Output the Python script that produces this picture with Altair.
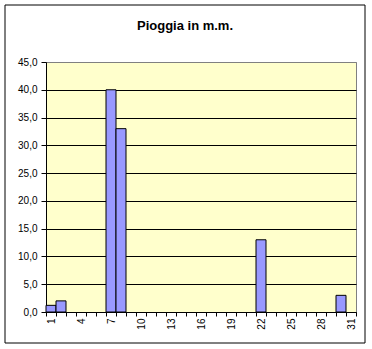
import altair as alt
import pandas as pd

days = list(range(1, 32))
rain = [1.2, 2.0, 0, 0, 0, 0, 40.0, 33.0, 0, 0,
        0, 0, 0, 0, 0, 0, 0, 0, 0, 0,
        0, 13.0, 0, 0, 0, 0, 0, 0, 0, 3.0,
        0]
y_ticks = [0, 5, 10, 15, 20, 25, 30, 35, 40, 45]
title_text = "Pioggia in m.m."

df = pd.DataFrame({"day": days, "rain": rain})
FONT = "Liberation Sans"

bars = alt.Chart(df).transform_filter("datum.rain > 0").mark_bar(
    color="#9999FF", stroke="black", strokeWidth=1
).encode(
    x=alt.X("day:O", scale=alt.Scale(domain=days, paddingInner=0, paddingOuter=0),
            axis=alt.Axis(title=None, labelAngle=270, tickBand="extent",
                          labelExpr="(datum.value - 1) % 3 == 0 ? datum.label : ''",
                          labelFont=FONT, labelFontSize=10, labelColor="black",
                          tickSize=4, labelPadding=2, domainColor="black",
                          tickColor="black", grid=False)),
    y=alt.Y("rain:Q", scale=alt.Scale(domain=[0, 45], nice=False),
            axis=alt.Axis(title=None, values=y_ticks,
                          labelExpr="replace(format(datum.value, '.1f'), '.', ',')",
                          labelFont=FONT, labelFontSize=10, labelColor="black",
                          tickSize=5, labelPadding=4, domainColor="black",
                          tickColor="black", grid=True,
                          gridColor={"condition": {"test": "datum.value == 45", "value": "#808080"},
                                     "value": "black"},
                          gridOpacity=1)),
)

frame = alt.Chart(pd.DataFrame({"a": [0]})).mark_rect(
    filled=False, stroke="black", strokeWidth=1
).encode(
    x=alt.value(-41), x2=alt.value(319), y=alt.value(-57), y2=alt.value(281)
)

chart = alt.layer(bars, frame).properties(
    width=310, height=250,
    padding={"left": 46, "top": 62, "right": 16, "bottom": 37},
    autosize=alt.AutoSizeParams(type="none"),
    title=alt.TitleParams(title_text, font=FONT, fontSize=13, fontWeight="bold",
                          anchor="middle", dx=-16, offset=-28, color="black"),
    background="white",
).configure_view(fill="#FFFFCC", stroke="#808080", strokeWidth=1)

chart.save("out.html", embed_options={"renderer": "svg", "actions": False})
